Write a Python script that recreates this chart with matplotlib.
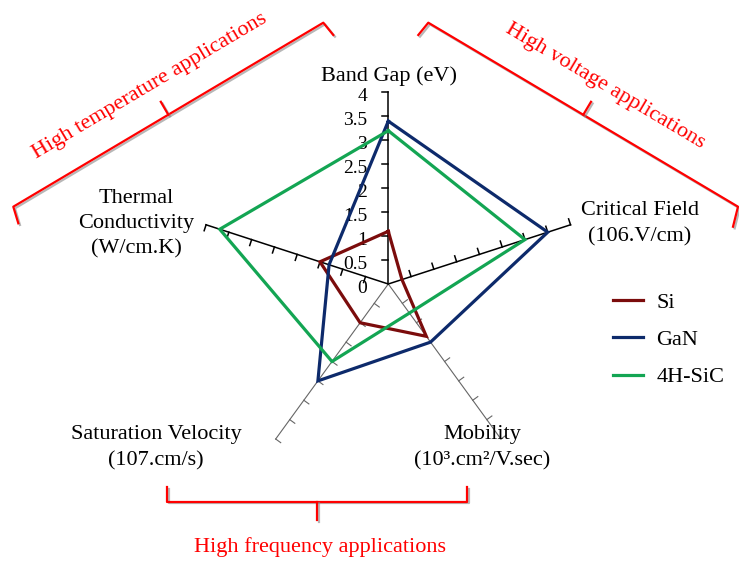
import matplotlib.pyplot as plt
import matplotlib.patheffects as pe
import numpy as np

plt.rcParams['font.family'] = ['Liberation Serif', 'DejaVu Serif']

# radar data
axis_names = ['Band Gap (eV)', 'Critical Field\n(106.V/cm)', 'Mobility\n(10³.cm²/V.sec)',
              'Saturation Velocity\n(107.cm/s)', 'Thermal\nConductivity\n(W/cm.K)']
si = [1.1, 0.3, 1.35, 1.0, 1.5]
gan = [3.4, 3.5, 1.5, 2.5, 1.3]
sic = [3.2, 3.0, 0.75, 2.0, 3.7]
materials = ['Si', 'GaN', '4H-SiC']
colors = ['#7B0C0C', '#0D2A6B', '#13A553']
ticks = [0, 0.5, 1, 1.5, 2, 2.5, 3, 3.5, 4]
tick_labels = ['0', '0.5', '1', '1.5', '2', '2.5', '3', '3.5', '4']
groups = ['High temperature applications', 'High voltage applications', 'High frequency applications']

W, H = 739, 563
cx, cy, scale = 388.3, 284.0, 47.9   # centre of the web in pixels, px per unit

fig = plt.figure(figsize=(W / 100, H / 100), dpi=100)
ax = fig.add_axes([0, 0, 1, 1])
ax.set_xlim(-cx / scale, (W - cx) / scale)
ax.set_ylim((cy - H) / scale, cy / scale)
ax.axis('off')

angles = np.deg2rad(90 - 72 * np.arange(5))
rmax = ticks[-1]

# spokes + small ticks
for i, a in enumerate(angles):
    c, s = np.cos(a), np.sin(a)
    if i in (2, 3):
        col, lw = '#666666', 0.8
    else:
        col, lw = 'black', 1.1
    ax.plot([0, rmax * c], [0, rmax * s], color=col, lw=lw, zorder=1)
    for r in ticks[1:]:
        ax.plot([r * c, r * c - 0.13 * s], [r * s, r * s + 0.13 * c], color=col, lw=lw, zorder=1)

for t, lab in zip(ticks, tick_labels):
    ax.text(-0.44, t - 0.09, lab, ha='right', va='center', fontsize=14, zorder=2)

# data polygons
for vals, name, col in zip([si, gan, sic], materials, colors):
    v = np.array(vals + vals[:1])
    a = np.concatenate([angles, angles[:1]])
    ax.plot(v * np.cos(a), v * np.sin(a), color=col, lw=2.3, label=name,
            solid_joinstyle='miter', zorder=3)

fig.legend(loc='upper left', bbox_to_anchor=(613 / W, 1 - 292 / H), frameon=False,
           fontsize=16, handlelength=1.35, handletextpad=0.6, labelspacing=0.76,
           borderpad=0, borderaxespad=0)

# overlay in pixel coordinates for labels and brackets
ov = fig.add_axes([0, 0, 1, 1], facecolor='none')
ov.set_xlim(0, W)
ov.set_ylim(H, 0)
ov.axis('off')

fs = 16
ov.text(389, 76, axis_names[0], ha='center', va='center', fontsize=fs)
ov.text(640, 224, axis_names[1], ha='center', va='center', fontsize=fs, linespacing=1.5)
ov.text(482, 448, axis_names[2], ha='center', va='center', fontsize=fs, linespacing=1.5)
ov.text(156, 448, axis_names[3], ha='center', va='center', fontsize=fs, linespacing=1.5)
ov.text(136, 224, axis_names[4], ha='center', va='center', fontsize=fs, linespacing=1.42)

red = '#FF0000'
shadow = [pe.SimpleLineShadow(offset=(1.2, -1.2), shadow_color='#888888', alpha=0.6), pe.Normal()]


def bracket(xs, ys):
    ov.plot(xs, ys, color=red, lw=1.6, solid_joinstyle='round', path_effects=shadow)


# top-left bracket
bracket([18.3, 13.3, 323.3, 333.3], [223.3, 206.7, 22.7, 35.0])
bracket([168.3, 160.8], [114.7, 101.8])
# top-right bracket
bracket([418.3, 428.3, 738.0, 733.0], [35.0, 22.7, 206.7, 226.7])
bracket([583.3, 591.0], [114.7, 101.8])
# bottom bracket
bracket([167, 167, 467, 467], [487, 501.5, 501.5, 487])
bracket([317, 317], [501.5, 520])

ov.text(150, 86, groups[0], ha='center', va='center', fontsize=fs, color=red,
        rotation=30.7, rotation_mode='anchor')
ov.text(605, 86, groups[1], ha='center', va='center', fontsize=fs, color=red,
        rotation=-30.7, rotation_mode='anchor')
ov.text(320, 547, groups[2], ha='center', va='center', fontsize=fs, color=red)

fig.savefig('out.png', dpi=100)
